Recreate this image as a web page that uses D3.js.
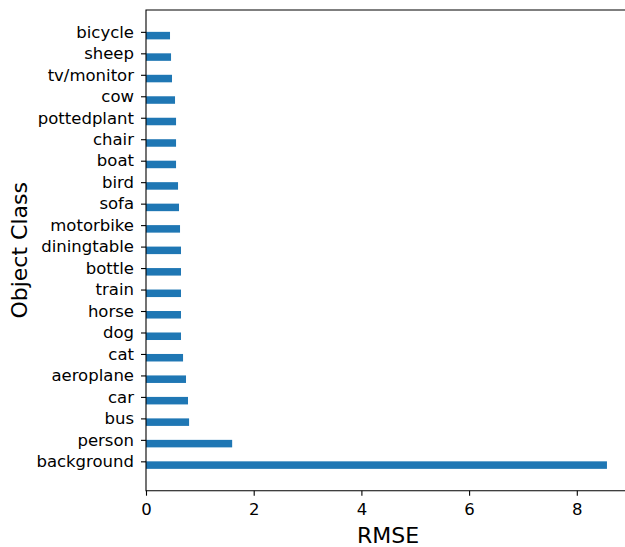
<!DOCTYPE html>
<html>
<head>
<meta charset="utf-8">
<script src="https://cdn.jsdelivr.net/npm/d3@7"></script>
<style>
  body { margin: 0; background: #fff; }
  svg { display: block; font-family: "DejaVu Sans", sans-serif; }
</style>
</head>
<body>
<script>
// classes listed bottom-to-top (index 0 sits at the bottom)
var classes = ["background", "person", "bus", "car", "aeroplane", "cat", "dog", "horse",
  "train", "bottle", "diningtable", "motorbike", "sofa", "bird", "boat", "chair",
  "pottedplant", "cow", "tv/monitor", "sheep", "bicycle"];
var rmse = [8.56, 1.60, 0.80, 0.78, 0.743, 0.688, 0.65, 0.65,
  0.65, 0.65, 0.65, 0.632, 0.613, 0.595, 0.558, 0.558,
  0.558, 0.539, 0.483, 0.465, 0.446];
var xTicks = [0, 2, 4, 6, 8];

var W = 625, H = 547;
var plotL = 146, plotT = 10, plotR = 630, plotB = 490.7;
var barH = 0.35;

var svg = d3.select("body").append("svg")
  .attr("width", W).attr("height", H);

// matplotlib style 5% margins
var yLo = -barH, yHi = classes.length - 1;
var yPad = (yHi - yLo) * 0.05;
var y = d3.scaleLinear().domain([yLo - yPad, yHi + yPad]).range([plotB, plotT]);
var xMax = d3.max(rmse) * 1.05;
var x = d3.scaleLinear().domain([0, xMax]).range([plotL, plotR]);

svg.append("g").selectAll("rect")
  .data(rmse)
  .enter().append("rect")
  .attr("x", x(0))
  .attr("y", function(d, i) { return y(i); })
  .attr("width", function(d) { return x(d) - x(0); })
  .attr("height", function(d, i) { return y(i - barH) - y(i); })
  .attr("fill", "#1f77b4");

var xAxis = svg.append("g")
  .attr("transform", "translate(0," + plotB + ")")
  .call(d3.axisBottom(x).tickValues(xTicks).tickSize(5).tickPadding(8).tickFormat(d3.format("d")));
xAxis.attr("font-size", 16.5).attr("font-family", "DejaVu Sans");
xAxis.select(".domain").remove();
xAxis.selectAll("text").attr("fill", "#000");
xAxis.selectAll("line").attr("stroke", "#000").attr("stroke-width", 1.1);

var yAxis = svg.append("g")
  .attr("transform", "translate(" + plotL + ",0)")
  .call(d3.axisLeft(y).tickValues(d3.range(classes.length)).tickSize(5).tickPadding(7)
    .tickFormat(function(i) { return classes[i]; }));
yAxis.attr("font-size", 16.5).attr("font-family", "DejaVu Sans");
yAxis.select(".domain").remove();
yAxis.selectAll("text").attr("fill", "#000");
yAxis.selectAll("line").attr("stroke", "#000").attr("stroke-width", 1.1);

// spines
svg.append("path")
  .attr("d", "M" + plotR + "," + plotT + "H" + plotL + "V" + plotB + "H" + plotR)
  .attr("fill", "none").attr("stroke", "#000").attr("stroke-width", 1.1);

svg.append("text")
  .attr("x", 388).attr("y", 543)
  .attr("text-anchor", "middle").attr("font-size", 22)
  .text("RMSE");

svg.append("text")
  .attr("transform", "translate(27," + ((plotT + plotB) / 2) + ") rotate(-90)")
  .attr("text-anchor", "middle").attr("font-size", 22)
  .text("Object Class");
</script>
</body>
</html>
